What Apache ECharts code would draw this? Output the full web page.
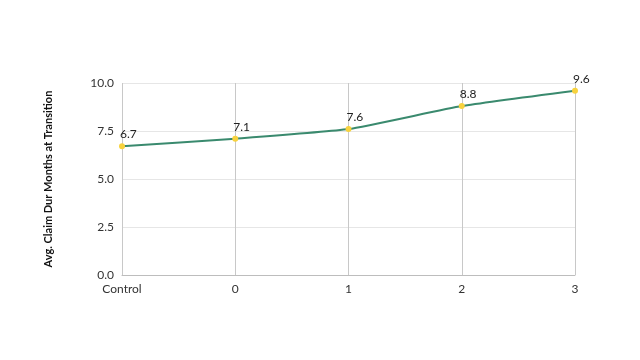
<!DOCTYPE html>
<html><head><meta charset="utf-8">
<script src="https://cdn.jsdelivr.net/npm/echarts@6/dist/echarts.min.js"></script>
<style>html,body{margin:0;padding:0;background:#fff}#c{width:640px;height:360px}</style>
</head><body><div id="c"></div>
<script>
var categories = ['Control', '0', '1', '2', '3'];
var values = [6.7, 7.1, 7.6, 8.8, 9.6];
var yTicks = [0, 2.5, 5, 7.5, 10];
var yTitle = 'Avg. Claim Dur Months at Transition';

var chart = echarts.init(document.getElementById('c'));
chart.setOption({
  animation: false,
  textStyle: {fontFamily: 'Lato'},
  grid: {left: 122, right: 65, top: 83, bottom: 85},
  xAxis: {
    type: 'category', data: categories, boundaryGap: false,
    axisLine: {lineStyle: {color: '#bdbdbd'}},
    axisTick: {show: false},
    axisLabel: {color: '#333', fontSize: 12, margin: 8},
    splitLine: {show: true, lineStyle: {color: '#c8c8c8'}}
  },
  yAxis: {
    type: 'value', min: 0, max: 10, interval: 2.5,
    name: yTitle, nameLocation: 'middle', nameGap: 68,
    nameTextStyle: {fontWeight: 'bold', fontSize: 11, color: '#111'},
    axisLine: {show: false}, axisTick: {show: false},
    axisLabel: {color: '#333', fontSize: 12, formatter: function(v){return v.toFixed(1);}},
    splitLine: {lineStyle: {color: '#e6e6e6'}}
  },
  series: [{
    type: 'line', data: values, smooth: 0.15,
    lineStyle: {color: '#3a8a6e', width: 2},
    itemStyle: {color: '#f7d23e'},
    symbol: 'circle', symbolSize: 6,
    label: {show: true, position: [1, -15], color: '#222', fontSize: 12,
      formatter: function(p){return p.value.toFixed(1);}}
  }]
});
</script></body></html>
